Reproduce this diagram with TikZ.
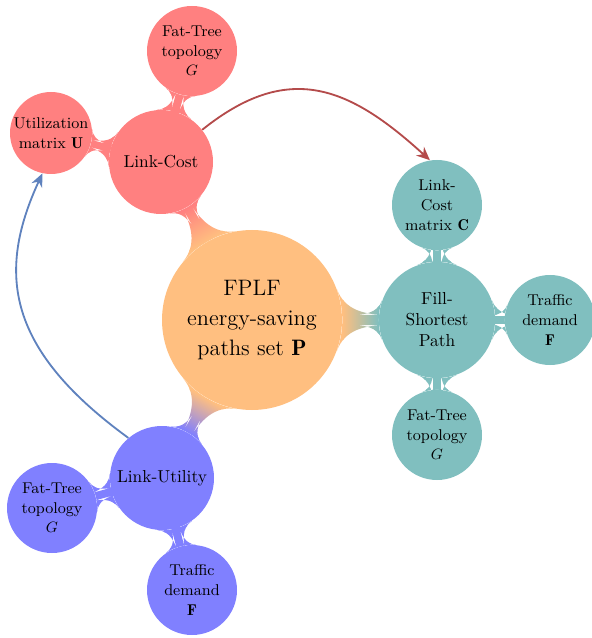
\documentclass[tikz,border=0pt]{standalone}
\usepackage{fontspec}
\usetikzlibrary{mindmap,arrows.meta,backgrounds}

\definecolor{costarrow}{RGB}{180,75,75}
\definecolor{utilarrow}{RGB}{95,130,190}

\tikzset{
  bubble/.style={circle, inner sep=0pt, align=center, text=black},
  rootbubble/.style={bubble, fill=orange!50, minimum size=108pt,
    font=\fontsize{13.4}{18}\selectfont},
  mainbubble/.style={bubble, minimum size=62.4pt,
    font=\fontsize{10.4}{12.6}\selectfont},
  leafbubble/.style={bubble, minimum size=54pt,
    font=\fontsize{9.4}{11.8}\selectfont},
  flow/.style={line width=1.1pt, -{Stealth[length=8pt,width=7pt]}},
}

\begin{document}
\begin{tikzpicture}[x=0.6pt,y=-0.6pt]
  \useasboundingbox (0,0) rectangle (591,638);

  % central concept
  \node[rootbubble] (root) at (252,320) {FPLF\\energy-saving\\paths set $\mathbf{P}$};

  % link-cost branch
  \node[mainbubble, fill=red!50] (lc) at (161,162) {Link-Cost};
  \node[leafbubble, fill=red!50] (lct) at (192,51) {Fat-Tree\\topology\\$G$};
  \node[leafbubble, fill=red!50, minimum size=49.2pt] (ut) at (51,133) {Utilization\\matrix $\mathbf{U}$};

  % shortest-path branch
  \node[mainbubble, fill=teal!50, minimum size=69.6pt] (fsp) at (437,320) {Fill-\\Shortest\\Path};
  \node[leafbubble, fill=teal!50] (lcm) at (437,205) {Link-\\Cost\\matrix $\mathbf{C}$};
  \node[leafbubble, fill=teal!50] (tdr) at (550,320) {Traffic\\demand\\$\mathbf{F}$};
  \node[leafbubble, fill=teal!50] (ftb) at (437,435) {Fat-Tree\\topology\\$G$};

  % link-utility branch
  \node[mainbubble, fill=blue!50] (lu) at (162,478) {Link-Utility};
  \node[leafbubble, fill=blue!50] (ftl) at (52,508) {Fat-Tree\\topology\\$G$};
  \node[leafbubble, fill=blue!50] (tdb) at (192,590) {Traffic\\demand\\$\mathbf{F}$};

  % connection bars between the bubbles
  \begin{scope}[on background layer]
    \path (root) to[circle connection bar switch color=from (orange!50) to (red!50)] (lc);
    \path (root) to[circle connection bar switch color=from (orange!50) to (teal!50)] (fsp);
    \path (root) to[circle connection bar switch color=from (orange!50) to (blue!50)] (lu);
    \path (lc) to[circle connection bar switch color=from (red!50) to (red!50)] (lct);
    \path (lc) to[circle connection bar switch color=from (red!50) to (red!50)] (ut);
    \path (fsp) to[circle connection bar switch color=from (teal!50) to (teal!50)] (lcm);
    \path (fsp) to[circle connection bar switch color=from (teal!50) to (teal!50)] (tdr);
    \path (fsp) to[circle connection bar switch color=from (teal!50) to (teal!50)] (ftb);
    \path (lu) to[circle connection bar switch color=from (blue!50) to (blue!50)] (ftl);
    \path (lu) to[circle connection bar switch color=from (blue!50) to (blue!50)] (tdb);
  \end{scope}

  % data flow between branches
  \draw[flow, costarrow] (lc.38) .. controls +(86,-69) and +(-81,-74) .. (lcm.99);
  \draw[flow, utilarrow] (lu.130) .. controls +(-121.5,-88.5) and +(-46.2,100) .. (ut.258);
\end{tikzpicture}
\end{document}
